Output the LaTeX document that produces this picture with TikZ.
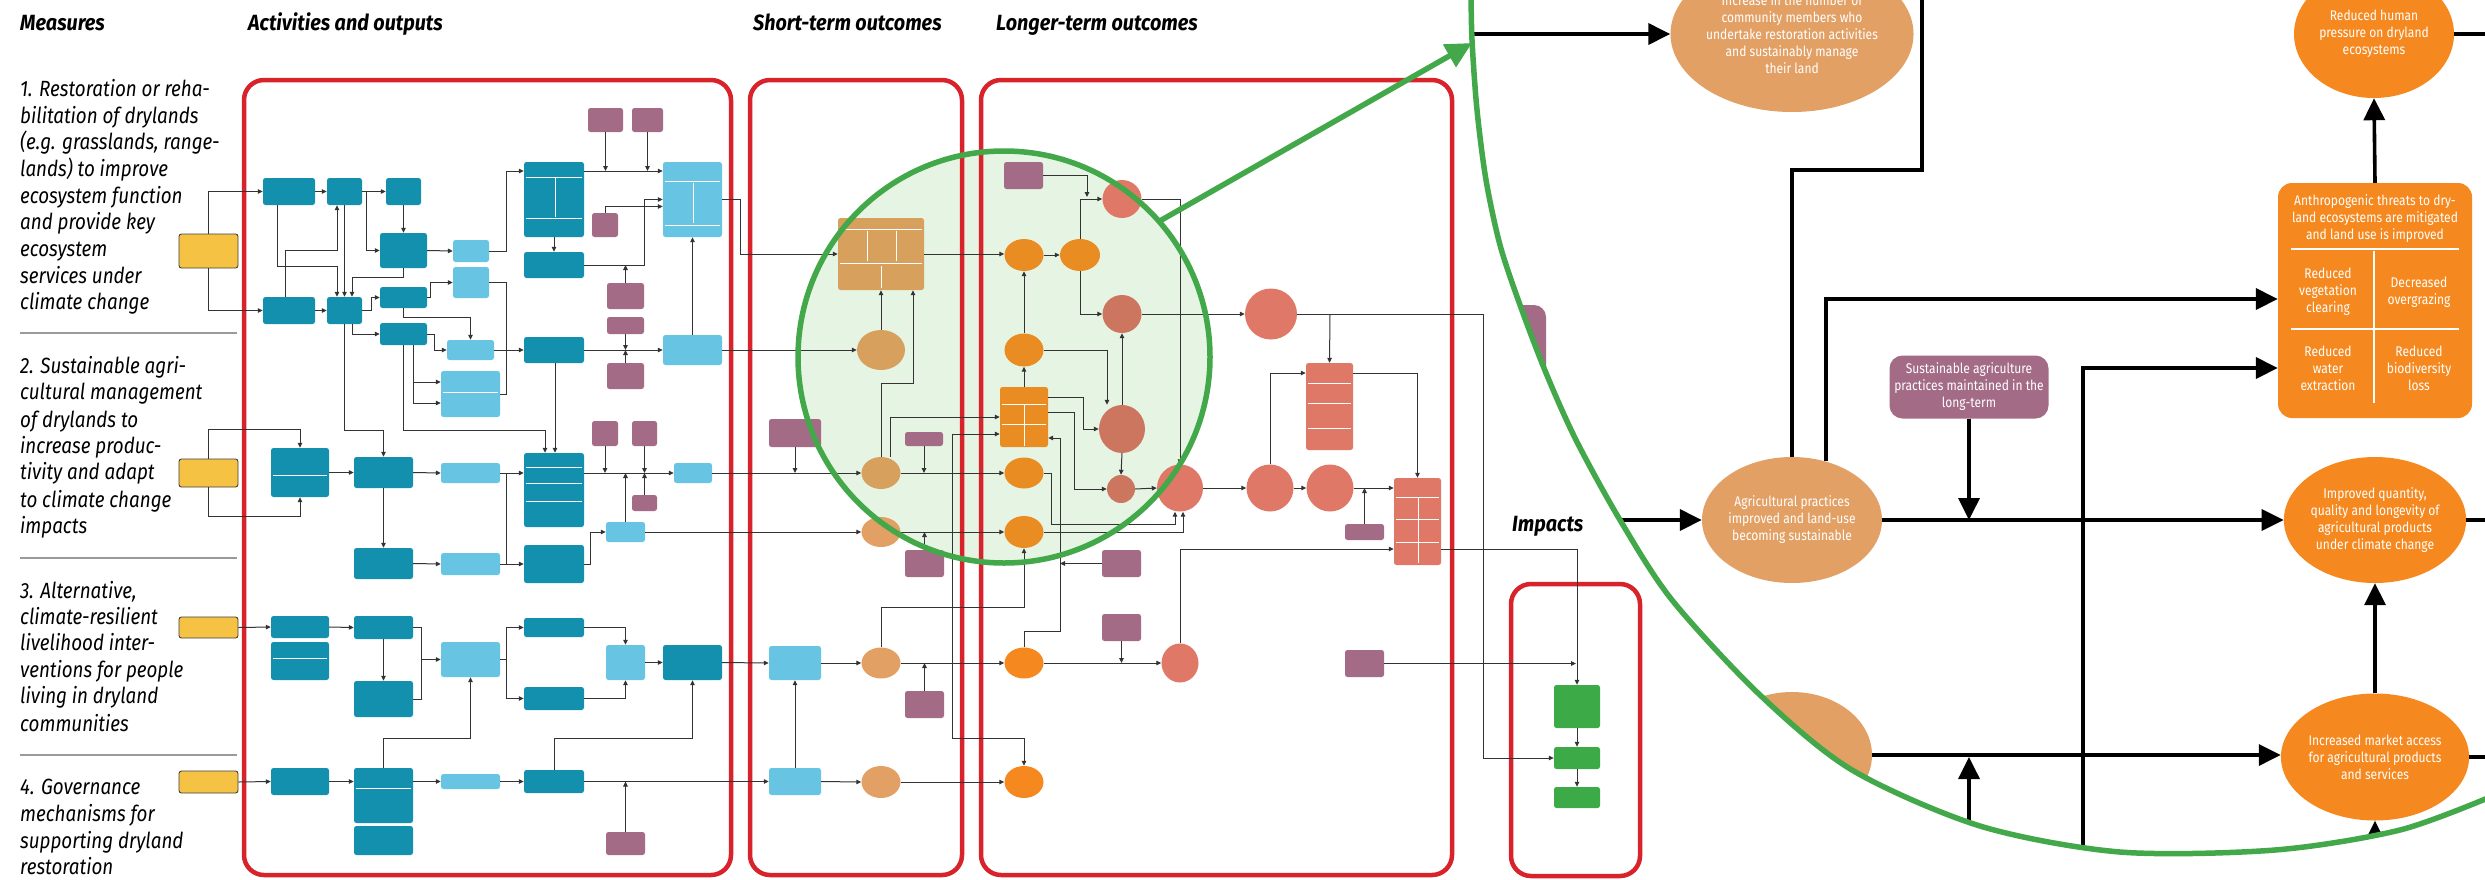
\documentclass[tikz,border=0pt]{standalone}
\usepackage{fontspec}
\setmainfont{Fira Sans}
\newfontfamily\condf{Fira Sans}[FakeStretch=0.86]
\newfontfamily\measf{Fira Sans}[FakeStretch=0.855]
\newfontfamily\headf{Fira Sans}[FakeStretch=0.9]
\usetikzlibrary{arrows.meta,shapes.geometric}
\definecolor{dteal}{HTML}{1390AE}
\definecolor{lblue}{HTML}{67C5E3}
\definecolor{purp}{HTML}{A46B86}
\definecolor{tanb}{HTML}{D7A05C}
\definecolor{tanc}{HTML}{E2A065}
\definecolor{orng}{HTML}{E98C22}
\definecolor{orngb}{HTML}{F5891F}
\definecolor{redc}{HTML}{E07868}
\definecolor{redd}{HTML}{CC7660}
\definecolor{grn}{HTML}{43A84A}
\definecolor{gbox}{HTML}{3DAA48}
\definecolor{yel}{HTML}{F6C244}
\definecolor{frame}{HTML}{D9232B}
\definecolor{lgrn}{HTML}{E6F4E3}
\definecolor{sepc}{HTML}{9A9A9A}
\tikzset{
 bx/.style={rounded corners=2.5pt, inner sep=0pt, draw=none},
 dk/.style={bx, fill=dteal},
 lb/.style={bx, fill=lblue},
 pu/.style={bx, fill=purp},
 ye/.style={bx, fill=yel, draw=black!75, line width=0.9pt},
 gb/.style={bx, fill=gbox},
 ov/.style={ellipse, inner sep=0pt, draw=none},
 sz/.style 2 args={minimum width=#1pt, minimum height=#2pt},
 ar/.style={-{Triangle[length=5pt,width=4.5pt]}, line width=1pt, draw=black!80},
 ln/.style={line width=1pt, draw=black!80},
 bigar/.style={-{Triangle[length=22pt,width=21pt]}, line width=3.6pt},
 biglin/.style={line width=3.6pt},
 frm/.style={draw=frame, line width=4.5pt, rounded corners=20pt},
 mtxt/.style={text=white, align=center, inner sep=0pt, font=\condf\fontsize{14}{17}\selectfont},
 mt/.style={anchor=base west, inner sep=0pt, font=\measf\itshape\fontsize{22}{26}\selectfont},
 hd/.style={anchor=base west, inner sep=0pt, font=\headf\bfseries\itshape\fontsize{22}{26}\selectfont},
 wl/.style={draw=white, line width=0.8pt},
}
\begin{document}
\begin{tikzpicture}[x=1pt,y=-1pt]
\useasboundingbox (0,0) rectangle (2485,879);
\clip (0,0) rectangle (2485,879);
\fill[white] (0,0) rectangle (2485,879);

% zoom circle background
\fill[lgrn] (1004,357) circle[radius=206];

% frames
\draw[frm] (244,80) rectangle (731,875);
\draw[frm] (750,80) rectangle (962,875);
\draw[frm] (981,80) rectangle (1452,875);
\draw[frm] (1511,584) rectangle (1640,876);

% headings
\node[hd] (h1) at (20,30) {Measures};
\node[hd] (h2) at (248,30) {Activities and outputs};
\node[hd] (h3) at (753,30) {Short-term outcomes};
\node[hd] (h4) at (996,30) {Longer-term outcomes};
\node[hd] (h5) at (1512,531) {Impacts};

% measures text
\node[mt] (a1) at (20,96.5) {1. Restoration or reha-};
\node[mt] (a2) at (20,123.5) {bilitation of drylands};
\node[mt] (a3) at (20,149.5) {(e.g. grasslands, range-};
\node[mt] (a4) at (20,176.5) {lands) to improve};
\node[mt] (a5) at (20,203.5) {ecosystem function};
\node[mt] (a6) at (20,229.5) {and provide key};
\node[mt] (a7) at (20,256.5) {ecosystem};
\node[mt] (a8) at (20,283.5) {services under};
\node[mt] (a9) at (20,309.5) {climate change};
\node[mt] (b1) at (20,373.5) {2. Sustainable agri-};
\node[mt] (b2) at (20,399.5) {cultural management};
\node[mt] (b3) at (20,427.5) {of drylands to};
\node[mt] (b4) at (20,453.5) {increase produc-};
\node[mt] (b5) at (20,479.5) {tivity and adapt};
\node[mt] (b6) at (20,507.5) {to climate change};
\node[mt] (b7) at (20,533.5) {impacts};
\node[mt] (c1) at (20,598.5) {3. Alternative,};
\node[mt] (c2) at (20,624.5) {climate-resilient};
\node[mt] (c3) at (20,650.5) {livelihood inter-};
\node[mt] (c4) at (20,677.5) {ventions for people};
\node[mt] (c5) at (20,703.5) {living in dryland};
\node[mt] (c6) at (20,731.5) {communities};
\node[mt] (d1) at (20,794.5) {4. Governance};
\node[mt] (d2) at (20,821.5) {mechanisms for};
\node[mt] (d3) at (20,848.5) {supporting dryland};
\node[mt] (d4) at (20,874.5) {restoration};
\draw[sepc, line width=2pt] (20,333) -- (237,333);
\draw[sepc, line width=2pt] (20,558) -- (237,558);
\draw[sepc, line width=2pt] (20,755) -- (237,755);

% yellow measure boxes
\node[ye,sz={59}{34}] (Y1) at (208.5,251) {};
\node[ye,sz={59}{28}] (Y2) at (208.5,473) {};
\node[ye,sz={59}{21}] (Y3) at (208.5,627.5) {};
\node[ye,sz={59}{22}] (Y4) at (208.5,782) {};

% activities
\node[dk,sz={52}{27}] (T1) at (289,191.5) {};
\node[dk,sz={35}{27}] (T2) at (344.5,191.5) {};
\node[dk,sz={35}{27}] (T3) at (403.5,191.5) {};
\node[dk,sz={47}{35}] (T4) at (403.5,250.5) {};
\node[lb,sz={36}{22}] (T5) at (471,251) {};
\node[dk,sz={60}{75}] (T6) at (554,199.5) {};
\node[lb,sz={59}{75}] (T7) at (692.5,199.5) {};
\node[dk,sz={60}{26}] (T8) at (554,265) {};
\node[pu,sz={35}{24}] (P1) at (605.5,120) {};
\node[pu,sz={31}{24}] (P2) at (647.5,120) {};
\node[pu,sz={26}{24}] (P3) at (605,225) {};
\node[pu,sz={37}{26}] (P4) at (625.5,296) {};
\node[pu,sz={37}{17}] (P5) at (625.5,325.5) {};
\node[pu,sz={37}{26}] (P6) at (625.5,376) {};
\node[dk,sz={52}{27}] (T9) at (289,310.5) {};
\node[dk,sz={35}{27}] (T10) at (344.5,310.5) {};
\node[dk,sz={47}{21}] (T11) at (403.5,297.5) {};
\node[lb,sz={36}{31}] (T12) at (471,282.5) {};
\node[dk,sz={47}{22}] (T13) at (403.5,334) {};
\node[lb,sz={47}{20}] (T14) at (470.5,350) {};
\node[dk,sz={60}{26}] (T15) at (554,350) {};
\node[lb,sz={59}{30}] (T16) at (692.5,350) {};
\node[lb,sz={59}{46}] (T17) at (470.5,394) {};
\node[pu,sz={26}{25}] (P7) at (605,433.5) {};
\node[pu,sz={25}{25}] (P8) at (644.5,433.5) {};
\node[dk,sz={58}{49}] (T18) at (300,472.5) {};
\node[dk,sz={59}{31}] (T19) at (383.5,472.5) {};
\node[lb,sz={59}{20}] (T20) at (470.5,473) {};
\node[dk,sz={60}{74}] (T21) at (554,490) {};
\node[pu,sz={25}{16}] (P10) at (644.5,503) {};
\node[lb,sz={38}{20}] (T22) at (693,473) {};
\node[lb,sz={39}{20}] (T23) at (625.5,532) {};
\node[dk,sz={59}{31}] (T24) at (383.5,563.5) {};
\node[lb,sz={59}{22}] (T25) at (470.5,564) {};
\node[dk,sz={60}{38}] (T26) at (554,564) {};
\node[dk,sz={58}{22}] (T27) at (300,627) {};
\node[dk,sz={58}{38}] (T28) at (300,661) {};
\node[dk,sz={59}{23}] (T29) at (383.5,627.5) {};
\node[dk,sz={59}{36}] (T30) at (383.5,699) {};
\node[lb,sz={59}{35}] (T31) at (470.5,659.5) {};
\node[dk,sz={60}{19}] (T32) at (554,627.5) {};
\node[dk,sz={60}{23}] (T33) at (554,698.5) {};
\node[lb,sz={39}{35}] (T34) at (625.5,662.5) {};
\node[dk,sz={59}{35}] (T35) at (692.5,662.5) {};
\node[dk,sz={58}{27}] (T36) at (300,781.5) {};
\node[dk,sz={59}{55}] (T37) at (383.5,795.5) {};
\node[dk,sz={59}{29}] (T38) at (383.5,840.5) {};
\node[lb,sz={59}{15}] (T39) at (470.5,781.5) {};
\node[dk,sz={60}{23}] (T40) at (554,781.5) {};
\node[pu,sz={39}{23}] (P11) at (625.5,843.5) {};
% white dividers
\draw[wl] (526,177) -- (582,177); \draw[wl] (555,178) -- (555,217); \draw[wl] (526,218) -- (582,218);
\draw[wl] (665,181) -- (720,181); \draw[wl] (693,183) -- (693,223); \draw[wl] (665,225) -- (720,225);
\draw[wl] (443,392) -- (498,392);
\draw[wl] (273,475) -- (327,475);
\draw[wl] (526,467) -- (582,467); \draw[wl] (526,483) -- (582,483); \draw[wl] (526,501) -- (582,501);
\draw[wl] (273,658) -- (327,658);
\draw[wl] (356,788) -- (411,788);

% short-term
\node[bx,fill=tanb,sz={86}{72}] (S1) at (881,254) {};
\node[ov,fill=tanb,sz={48}{40}] (S2) at (881,350) {};
\node[ov,fill=tanb,sz={39}{32}] (S3) at (881,473) {};
\node[ov,fill=tanc,sz={39}{30}] (S4) at (881,532) {};
\node[ov,fill=tanc,sz={39}{31}] (S5) at (881,663) {};
\node[ov,fill=tanc,sz={39}{32}] (S6) at (881,782) {};
\node[lb,sz={52}{34}] (SL1) at (795,663) {};
\node[lb,sz={52}{27}] (SL2) at (795,781.5) {};
\node[pu,sz={52}{28}] (P12) at (795,433) {};
\node[pu,sz={38}{14}] (P13) at (924,439) {};
\node[pu,sz={39}{27}] (P14) at (924.5,563.5) {};
\node[pu,sz={39}{27}] (P15) at (924.5,704.5) {};
\draw[wl] (840,229) -- (922,229); \draw[wl] (867,231) -- (867,261); \draw[wl] (896,231) -- (896,261);
\draw[wl] (840,263) -- (922,263); \draw[wl] (881,266) -- (881,288);

% longer-term
\node[pu,sz={39}{27}] (Lp1) at (1023.5,175.5) {};
\node[ov,fill=redc,sz={39}{38}] (La) at (1122,199) {};
\node[ov,fill=orng,sz={39}{32}] (Lb) at (1024,255) {};
\node[ov,fill=orng,sz={40}{32}] (Lc) at (1080,255) {};
\node[ov,fill=redd,sz={39}{38}] (Ld) at (1122,314) {};
\node[ov,fill=orng,sz={39}{33}] (Le) at (1024,350) {};
\node[bx,fill=orng,sz={48}{60}] (Lbox) at (1024,417) {};
\node[ov,fill=redd,sz={46}{48}] (Lf) at (1122,429) {};
\node[ov,fill=redc,sz={52}{51}] (Lg) at (1271,314) {};
\node[bx,fill=redc,sz={47}{87}] (Lh) at (1329.5,406.5) {};
\node[ov,fill=orng,sz={39}{31}] (L3) at (1024,473) {};
\node[ov,fill=orng,sz={39}{32}] (L4) at (1024,532) {};
\node[ov,fill=orngb,sz={39}{31}] (L5) at (1024,663) {};
\node[ov,fill=orngb,sz={39}{32}] (L6) at (1024,782) {};
\node[ov,fill=redd,sz={28}{28}] (Lj) at (1121,489) {};
\node[ov,fill=redc,sz={46}{47}] (Lk) at (1180,488) {};
\node[ov,fill=redc,sz={47}{47}] (Li) at (1270,488) {};
\node[ov,fill=redc,sz={47}{47}] (Ll) at (1330,488) {};
\node[bx,fill=redc,sz={47}{87}] (Ln) at (1417.5,521.5) {};
\node[ov,fill=redc,sz={37}{39}] (Lm) at (1180,663) {};
\node[pu,sz={39}{27}] (P16) at (1121.5,563.5) {};
\node[pu,sz={39}{16}] (P17) at (1364.5,532) {};
\node[pu,sz={39}{27}] (P18) at (1121.5,627.5) {};
\node[pu,sz={39}{27}] (P19) at (1364.5,663.5) {};
\draw[wl] (1002,404) -- (1046,404); \draw[wl] (1024,405) -- (1024,446); \draw[wl] (1002,424) -- (1046,424);
\draw[wl] (1308,383) -- (1351,383); \draw[wl] (1308,403) -- (1351,403); \draw[wl] (1308,428) -- (1351,428);
\draw[wl] (1396,497) -- (1439,497); \draw[wl] (1418,498) -- (1418,563); \draw[wl] (1396,519) -- (1439,519); \draw[wl] (1396,542) -- (1439,542);

% impacts
\node[gb,sz={46}{43}] (G1) at (1577,706.5) {};
\node[gb,sz={46}{22}] (G2) at (1577,758) {};
\node[gb,sz={46}{21}] (G3) at (1577,797.5) {};

% ---- connectors: measures
\draw[ar] (Y1.north) |- (T1.west);
\draw[ar] (Y1.south) |- (T9.west);
\draw[ar] (Y2.north) -- (208.5,429) -| (T18.north);
\draw[ar] (Y2.south) -- (208.5,516) -| (T18.south);
\draw[ar] (Y3.east) -- (T27.west);
\draw[ar] (Y4.east) -- (T36.west);
% row 1
\draw[ar] (T1.east) -- (T2.west);
\draw[ar] (T2.east) -- (T3.west);
\draw[ar] (366,191.5) |- (T4.west);
\draw[ar] (T3.south) -- (T4.north);
\draw[ar] (T4.east) -- (T5.west);
\draw[ar] (T5.east) -- (506,251) |- ([yshift=28.5pt]T6.west);
\draw[ar] ([xshift=-12pt]T1.south) -- (277,266) -| ([xshift=-7.5pt]T10.north);
\draw[ar] (T2.south) -- (T10.north);
\draw[ar] ([xshift=-4pt]T9.north) -- (285,250) -| ([xshift=-7.5pt]T2.south);
\draw[ar] (T4.south) -- (403.5,277) -| ([xshift=7.5pt]T10.north);
\draw[ar] (T9.east) -- (T10.west);
\draw[ar] (T10.east) -- ++(9,0) |- (T11.west);
\draw[ar] ([xshift=7.5pt]T10.south) |- (T13.west);
\draw[ar] (T10.south) -- (344.5,430) -| (T19.north);
\draw[ar] (T11.east) -- ++(3,0) |- (T12.west);
\draw[ar] (T11.south) -- ++(0,9) -| (T14.north);
\draw[ln] (T12.east) -- (506,282.5) |- (T17.east);
\draw[ar] ([xshift=10pt]T13.south) |- ([yshift=12pt]T17.west);
\draw[ar] ([xshift=10pt]T13.south) |- ([yshift=-9pt]T17.west);
\draw[ar] (T13.east) -- ++(7,0) |- (T14.west);
\draw[ar] (T13.south) -- (403.5,430) -| ([xshift=-9pt]T21.north);
\draw[ar] ([xshift=1pt]T15.south) -- ([xshift=1pt]T21.north);
\draw[ar] (T14.east) -- (T15.west);
\draw[ar] (T15.east) -- (T16.west);
\draw[ar] (P5.south) -- (P5.south |- T15.east);
\draw[ar] (P6.north) -- (P6.north |- T15.east);
\draw[ar] ([yshift=28.5pt]T6.east) -- ([yshift=28.5pt]T7.west);
\draw[ar] (P1.south) -- (605.5,171);
\draw[ar] (P2.south) -- (647.5,171);
\draw[ar] (T6.south) -- (T8.north);
\draw[ar] (T8.east) -- (644,265) |- (T7.west);
\draw[ar] (P4.north) -- (625.5,265);
\draw[ar] (P3.north) |- ([yshift=-7pt]T7.west);
\draw[ar] (T16.north) -- (T7.south);
\draw[ar] (T7.east) -- (740,199.5) |- (S1.west);
\draw[ar] (T16.east) -- (S2.west);
% row 2
\draw[ar] (T18.east) -- (T19.west);
\draw[ar] (T19.east) -- (T20.west);
\draw[ar] (T20.east) -- (T20.east -| T21.west);
\draw[ln] (T25.east) -- (506,564) -- (506,473);
\draw[ar] (T25.east) -- (T26.west);
\draw[ar] (T19.south) -- (T24.north);
\draw[ar] (T24.east) -- (T25.west);
\draw[ar] (T26.east) -- (590,564) |- (T23.west);
\draw[ar] (T23.east) -- (S4.west);
\draw[ar] (T21.east |- T22.west) -- (T22.west);
\draw[ar] (P7.south) -- (P7.south |- T22.west);
\draw[ar] (P8.south) -- (P8.south |- T22.west);
\draw[ar] (P10.north) -- (P10.north |- T22.west);
\draw[ar] (T23.north) -- (T23.north |- T22.west);
\draw[ar] (T22.east) -- (S3.west);
% row 3
\draw[ar] (T27.east) -- (T29.west);
\draw[ar] (T29.south) -- (T30.north);
\draw[ln] (T29.east) -- (421,627.5) -- (421,699) -- (T30.east);
\draw[ar] (421,659.5) -- (T31.west);
\draw[ar] (T31.east) -- (506,659.5) |- (T32.west);
\draw[ar] (506,659.5) |- (T33.west);
\draw[ar] (T32.east) -| (T34.north);
\draw[ar] (T33.east) -| (T34.south);
\draw[ar] (T34.east) -- (T35.west);
\draw[ar] (T35.east) -- (SL1.west);
% row 4
\draw[ar] (T36.east) -- (T36.east -| T37.west);
\draw[ar] (T36.east -| T37.east) -- (T39.west);
\draw[ar] (T39.east) -- (T40.west);
\draw[ar] (T40.east) -- (SL2.west);
\draw[ar] (P11.north) -- (P11.north |- T40.east);
\draw[ar] (T37.north) -- (383.5,738) -| (T31.south);
\draw[ar] (T40.north) -- (554,738) -| (T35.south);
% short-term
\draw[ar] (S2.north) -- (S1.south);
\draw[ar] (S3.north) -- (881,383) -| ([xshift=32pt]S1.south);
\draw[ar] ([xshift=9pt]S3.north) -- (890,417) -- (Lbox.west);
\draw[ar] (P12.south) -- (P12.south |- S3.west);
\draw[ar] (P13.south) -- (P13.south |- S3.west);
\draw[ar] (S3.east) -- (L3.west);
\draw[ar] (S4.east) -- (L4.west);
\draw[ar] (P14.north) -- (P14.north |- S4.east);
\draw[ar] (SL2.north) -- (SL1.south);
\draw[ar] (SL1.east) -- (S5.west);
\draw[ar] (S5.east) -- (L5.west);
\draw[ar] (P15.north) -- (P15.north |- S5.east);
\draw[ar] (S5.north) -- (881,607) -| (L4.south);
\draw[ar] (SL2.east) -- (S6.west);
\draw[ar] (S6.east) -- (L6.west);
\draw[ln] (952,434) -- (952,738);
\draw[ar] (952,434) -- ([yshift=-17pt]Lbox.west);
\draw[ar] (952,738) -| (L6.north);
% longer-term
\draw[ar] (S1.east) -- (S1.east -| Lb.west);
\draw[ar] (Lb.east) -- (Lc.west);
\draw[ar] (Lc.north) |- (La.west);
\draw[ar] (Lc.south) |- (Ld.west);
\draw[ar] (Lp1.east) -- (1087,175.5) -- (1087,197);
\draw[ar] (Le.north) -- (Lb.south);
\draw[ar] (Lbox.north) -- (Le.south);
\draw[ar] (Lf.north) -- (Ld.south);
\draw[ar] (Le.east) -| ([xshift=-15pt]Lf.north);
\draw[ar] ([yshift=20pt]Lbox.east) -- (1083,397) |- (Lf.west);
\draw[ar] ([yshift=5pt]Lbox.east) -- (1074,412) |- (Lj.west);
\draw[ar] (L5.north) -- (1024,631) -- (1060,631) -- (1060,438) -- ([yshift=-21pt]Lbox.east);
\draw[ar] (P16.west) -- (1060,563.5);
\draw[ar] (La.east) -| (Lk.north);
\draw[ar] (Ld.east) -- (Lg.west);
\draw[ar] (Lg.east) -- (1483,314) |- (G2.west);
\draw[ar] (1330,314) -- (Lh.north);
\draw[ar] (Li.north) |- ([yshift=33.5pt]Lh.west);
\draw[ar] ([yshift=33.5pt]Lh.east) -| (Ln.north);
\draw[ar] (Lf.south) -- (Lj.north);
\draw[ar] (Lj.east) -- (Lk.west);
\draw[ar] (Lk.east) -- (Li.west);
\draw[ar] (Li.east) -- (Ll.west);
\draw[ar] (Ll.east) -- (Ll.east -| Ln.west);
\draw[ar] (P17.north) -- (P17.north |- Ll.east);
\draw[ar] (L3.east) -- (1051,473) -- (1051,524) -| ([xshift=-5pt]Lk.south);
\draw[ar] (L4.east) -| ([xshift=3pt]Lk.south);
\draw[ar] (L5.east) -- (Lm.west);
\draw[ar] (P18.south) -- (P18.south |- L5.east);
\draw[ar] (Lm.north) |- ([yshift=-27.5pt]Ln.west);
\draw[ar] (P19.east) -- (1576,663.5);
\draw[ar] ([yshift=-27.5pt]Ln.east) -| (G1.north);
\draw[ar] (G1.south) -- (G2.north);
\draw[ar] (G2.south) -- (G3.north);

% zoom circle outline and callout arrow
\draw[grn, line width=5.5pt] (1004,357) circle[radius=206];
\draw[grn, line width=5.5pt, -{Triangle[length=26pt,width=25pt]}] (1158,222) -- (1472,43);

% ---- magnified region
\begin{scope}
\clip plot[smooth] coordinates {(1471,-10) (1472,40) (1477,110) (1486,180) (1500,245) (1520,305) (1546,373) (1576,440) (1620,520) (1672,600) (1760,695) (1852,770) (1980,826) (2120,852) (2275,850) (2400,830) (2495,795)} -- (2495,-10) -- cycle;
\node[ov, fill=tanc, sz={200}{156}, mtxt] (M1) at (1792,34) {Increase in the number of\\community members who\\undertake restoration activities\\and sustainably manage\\their land};
\node[ov, fill=orngb, sz={160}{128}, mtxt] (M6) at (2374,34) {Reduced human\\pressure on dryland\\ecosystems};
\node[ov, fill=tanc, sz={160}{126}, mtxt] (M2) at (1792,520) {Agricultural practices\\improved and land-use\\becoming sustainable};
\node[ov, fill=orngb, sz={162}{126}, mtxt] (M3) at (2375,520) {Improved quantity,\\quality and longevity of\\agricultural products\\under climate change};
\node[ov, fill=orngb, sz={162}{127}, mtxt] (M7) at (2375,757) {Increased market access\\for agricultural products\\and services};
\node[ov, fill=tanc, sz={160}{126}] (M9) at (1792,755) {};
\node[pu, rounded corners=12pt, sz={140}{130}] (MP) at (1476,370) {};
\node[bx, fill=purp, rounded corners=13pt, sz={159}{63}, mtxt] (M4) at (1969,387) {Sustainable agriculture\\practices maintained in the\\long-term};
\node[bx, fill=orngb, rounded corners=14pt, sz={194}{235}] (M5) at (2375,300.5) {};
\node[mtxt] (M5h) at (2375,219) {Anthropogenic threats to dry-\\land ecosystems are mitigated\\and land use is improved};
\node[mtxt] (M5a) at (2328,292) {Reduced\\vegetation\\clearing};
\node[mtxt] (M5b) at (2419,292) {Decreased\\overgrazing};
\node[mtxt] (M5c) at (2328,368) {Reduced\\water\\extraction};
\node[mtxt] (M5d) at (2419,368) {Reduced\\biodiversity\\loss};
\draw[white, line width=1.8pt] (2291,249) -- (2459,249);
\draw[white, line width=1.8pt] (2374,251) -- (2374,403);
\draw[white, line width=1.8pt] (2291,329) -- (2459,329);
\draw[bigar] (1460,34) -- (M1.west);
\draw[biglin] (1922,-10) -- (1922,170) -| (M2.north);
\draw[bigar] (M2.60) |- ([yshift=1.5pt]M5.west);
\draw[bigar] (1590,520) -- (M2.west);
\draw[bigar] (M2.east) -- (M3.west);
\draw[bigar] (M4.south) -- (M4.south |- M2.east);
\draw[bigar] (2083,900) |- ([yshift=-67.5pt]M5.west);
\draw[bigar] (M5.north) -- (M6.south);
\draw[biglin] (M6.east) -- (2495,34);
\draw[biglin] (M3.east) -- (2495,520);
\draw[bigar] (M7.north) -- (M3.south);
\draw[biglin] (M7.east) -- (2495,757);
\draw[bigar] (2375,900) -- (M7.south);
\draw[bigar] (M9.east) -- (M9.east -| M7.west);
\draw[bigar] (1969,900) -- (1969,757);
\end{scope}
\draw[grn, line width=5.5pt] plot[smooth] coordinates {(1471,-10) (1472,40) (1477,110) (1486,180) (1500,245) (1520,305) (1546,373) (1576,440) (1620,520) (1672,600) (1760,695) (1852,770) (1980,826) (2120,852) (2275,850) (2400,830) (2495,795)};
\end{tikzpicture}
\end{document}
